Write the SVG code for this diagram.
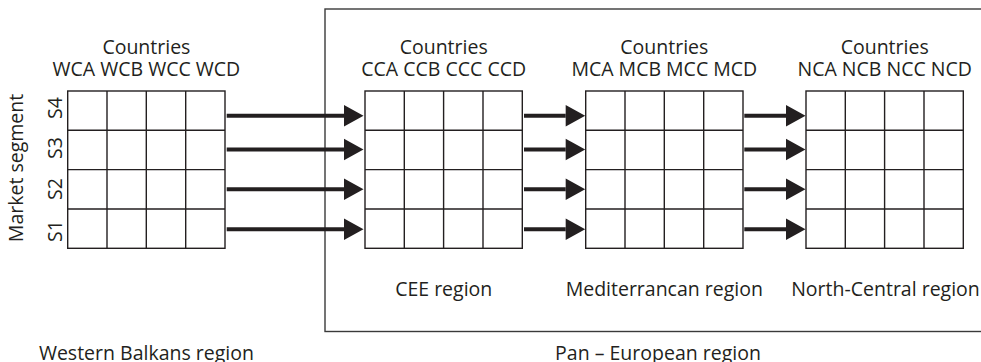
<svg xmlns="http://www.w3.org/2000/svg" width="981" height="362" viewBox="0 0 981 362">
<style>
text{font-family:"Open Sans","Noto Sans","Liberation Sans",sans-serif;font-size:19.5px;fill:#231f20;text-anchor:middle}
.grid{fill:#fff;stroke:#231f20;stroke-width:1.4}
.gl{stroke:#231f20;stroke-width:1.4;fill:none}
.box{fill:none;stroke:#3a3a3a;stroke-width:1.4}
.arr{stroke:#231f20;stroke-width:4;fill:none}
</style>
<defs>
<marker id="ah" markerUnits="userSpaceOnUse" markerWidth="20" markerHeight="22" refX="0" refY="10.7" orient="auto" overflow="visible">
<path d="M0,0 L19.5,10.7 L0,21.4 Z" fill="#231f20"/>
</marker>
<g id="cells">
<rect class="grid" x="0" y="0" width="157.3" height="157.3"/>
<path class="gl" d="M39.3,0V157.3M78.6,0V157.3M118,0V157.3M0,39.3H157.3M0,78.6H157.3M0,118H157.3"/>
</g>
</defs>
<rect class="box" x="325" y="9" width="700" height="322.5"/>
<g id="wb">
<use href="#cells" x="67.7" y="91"/>
<text x="146.4" y="54.3">Countries</text>
<text x="146.4" y="76">WCA WCB WCC WCD</text>
<text x="146.4" y="359.5">Western Balkans region</text>
</g>
<g id="cee">
<use href="#cells" x="365" y="91"/>
<text x="443.7" y="54.3">Countries</text>
<text x="443.7" y="76">CCA CCB CCC CCD</text>
<text x="443.7" y="296">CEE region</text>
</g>
<g id="med">
<use href="#cells" x="585.7" y="91"/>
<text x="664.3" y="54.3">Countries</text>
<text x="664.3" y="76">MCA MCB MCC MCD</text>
<text x="664.3" y="296">Mediterrancan region</text>
</g>
<g id="nc">
<use href="#cells" x="806" y="91"/>
<text x="884.7" y="54.3">Countries</text>
<text x="884.7" y="76">NCA NCB NCC NCD</text>
<text x="885.5" y="296">North-Central region</text>
</g>
<g id="pan">
<text x="658" y="360">Pan – European region</text>
</g>
<g id="axis">
<text transform="translate(23.3,168) rotate(-90)">Market segment</text>
<text transform="translate(61.7,108) rotate(-90)">S4</text>
<text transform="translate(61.7,148) rotate(-90)">S3</text>
<text transform="translate(61.7,189) rotate(-90)">S2</text>
<text transform="translate(61.7,231) rotate(-90)">S1</text>
</g>
<g id="connectors" marker-end="url(#ah)">
<path class="arr" d="M226.7,115.7H344"/>
<path class="arr" d="M226.7,149.5H344"/>
<path class="arr" d="M226.7,189.3H344"/>
<path class="arr" d="M226.7,229.3H344"/>
<path class="arr" d="M524,115.7H565.7"/>
<path class="arr" d="M524,149.5H565.7"/>
<path class="arr" d="M524,189.3H565.7"/>
<path class="arr" d="M524,229.3H565.7"/>
<path class="arr" d="M744.3,115.7H786"/>
<path class="arr" d="M744.3,149.5H786"/>
<path class="arr" d="M744.3,189.3H786"/>
<path class="arr" d="M744.3,229.3H786"/>
</g>
</svg>
